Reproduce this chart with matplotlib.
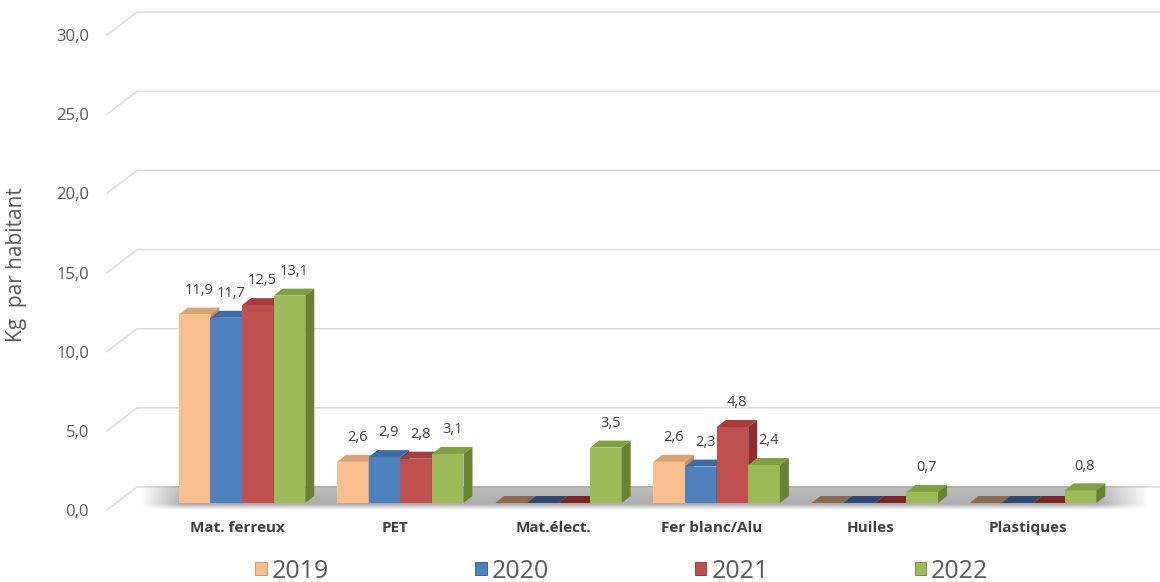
"""Déchets collectés par habitant - barres 3D façon Excel"""

import numpy as np
import matplotlib
matplotlib.use("Agg")
import matplotlib.pyplot as plt
from matplotlib.patches import Polygon, Patch

plt.rcParams["font.family"] = ["Open Sans", "DejaVu Sans"]

# données
categories = ["Mat. ferreux", "PET", "Mat.élect.", "Fer blanc/Alu", "Huiles", "Plastiques"]
years = ["2019", "2020", "2021", "2022"]
v2019 = [11.9, 2.6, 0.0, 2.6, 0.0, 0.0]
v2020 = [11.7, 2.9, 0.0, 2.3, 0.0, 0.0]
v2021 = [12.5, 2.8, 0.0, 4.8, 0.0, 0.0]
v2022 = [13.1, 3.1, 3.5, 2.4, 0.7, 0.8]
yticks = [0, 5, 10, 15, 20, 25, 30]

series = [v2019, v2020, v2021, v2022]
front = ["#F9BE8D", "#4F81BD", "#C0504D", "#9BBB59"]
top = ["#D9A273", "#3D6BA6", "#A63D3A", "#80A142"]
side = ["#C48C5F", "#2F5687", "#8B2E2C", "#66832F"]
flat = ["#8E6A4E", "#2C4A73", "#7A2625", "#6E8C35"]

W, H = 1160, 582
X0, SX = 242.0, 158.2      # centre du 1er groupe (px), px par catégorie
Y0, SY = 503.0, 15.83      # base des barres (px), px par kg


def X(px):
    return (px - X0) / SX


def V(py):
    return (Y0 - py) / SY


fig = plt.figure(figsize=(W / 100, H / 100), dpi=100)
ax = fig.add_axes([0, 0, 1, 1])
ax.set_xlim(X(0), X(W))
ax.set_ylim(V(H), V(0))
ax.axis("off")

# grille sur le mur du fond
for t in yticks:
    ax.plot([X(107), X(137), X(1160)], [t - 7 / SY, t + 16 / SY, t + 16 / SY],
            color="#D9D9D9", lw=1, zorder=0)
    ax.text(X(89), t - 9 / SY, f"{t:.1f}".replace(".", ","), ha="right", va="center",
            fontsize=12, color="#595959")

# ombre du sol
nx, ny = 400, 40
gx = np.linspace(0, 1, nx)
gy = np.linspace(0, 1, ny)
fade_x = np.clip(gx / 0.04, 0, 1) * np.clip((1 - gx) / 0.05, 0, 1)
fade_y = np.where(gy < 0.75, 0.5 + 0.2 * gy, 0.65 * (1 - (gy - 0.75) / 0.25))
alpha = np.outer(fade_y, fade_x)
img = np.zeros((ny, nx, 4))
img[..., :3] = 0.5
img[..., 3] = alpha
ax.imshow(img, extent=(X(140), X(1150), V(510), V(486)), aspect="auto",
          interpolation="bilinear", zorder=1)

w = 0.2
dx, dy = 9 / SX, 7 / SY
idx = np.arange(len(categories))
for j, vals in enumerate(series):
    xs = idx + (j - 1.5) * w
    z = 3 + j
    ax.bar(xs, vals, width=w, color=front[j], linewidth=0, zorder=z)
    for x, v in zip(xs, vals):
        x0 = x - w / 2
        ctop = top[j] if v > 0 else flat[j]
        ax.add_patch(Polygon([(x0, v), (x0 + w, v), (x0 + w + dx, v + dy), (x0 + dx, v + dy)],
                             closed=True, facecolor=ctop, edgecolor="none", zorder=z))
        if v > 0:
            ax.add_patch(Polygon([(x0 + w, 0), (x0 + w + dx, dy), (x0 + w + dx, v + dy), (x0 + w, v)],
                                 closed=True, facecolor=side[j], edgecolor="none", zorder=z))
            ax.annotate(f"{v:.1f}".replace(".", ","), (x + dx / 2, v), xytext=(0, 17.5),
                        textcoords="offset points", ha="center", va="center",
                        fontsize=10.5, color="#404040", zorder=10)

for i, c in enumerate(categories):
    ax.text(i - 0.03, V(528), c, ha="center", va="center", fontsize=11,
            fontweight="bold", color="#404040")

fig.text(17 / W, 1 - 265 / H, "Kg  par habitant", rotation=90, ha="center", va="center",
         fontsize=15, color="#595959")

handles = [Patch(facecolor=front[j], edgecolor=side[j], linewidth=0.6) for j in range(4)]
fig.legend(handles, years, loc="center", bbox_to_anchor=(622 / W, 1 - 571 / H),
           ncol=4, frameon=False, fontsize=18, labelcolor="#595959",
           handlelength=0.45, handleheight=0.45, handletextpad=0.2, columnspacing=5.85,
           borderpad=0)

fig.savefig("out.png", dpi=100)
